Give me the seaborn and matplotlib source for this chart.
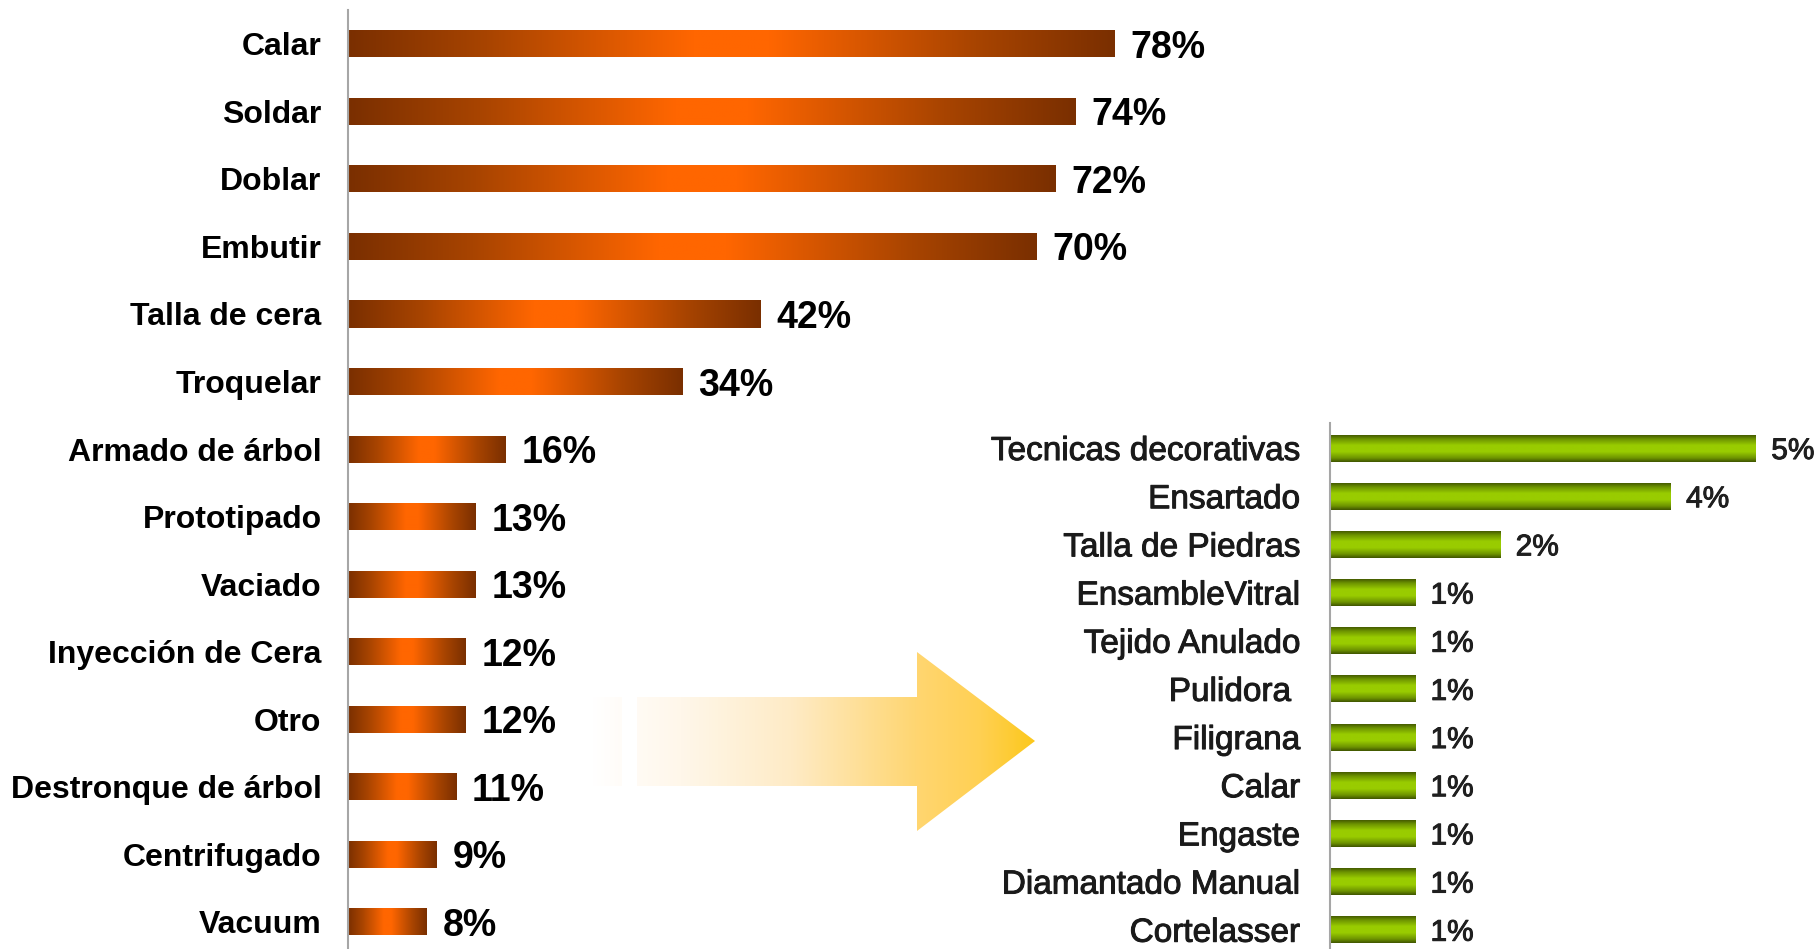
import numpy as np
import pandas as pd
import seaborn as sns
import matplotlib.pyplot as plt
import matplotlib.patheffects as pe
from matplotlib.colors import LinearSegmentedColormap
from matplotlib.patches import Polygon, Rectangle

sns.set_theme(style="white")
plt.rcParams['font.family'] = ['Liberation Sans', 'DejaVu Sans']

# data
left_cats = ["Calar", "Soldar", "Doblar", "Embutir", "Talla de cera", "Troquelar",
             "Armado de árbol", "Prototipado", "Vaciado", "Inyección de Cera", "Otro",
             "Destronque de árbol", "Centrifugado", "Vacuum"]
left_vals = [78, 74, 72, 70, 42, 34, 16, 13, 13, 12, 12, 11, 9, 8]

right_cats = ["Tecnicas decorativas", "Ensartado", "Talla de Piedras", "EnsambleVitral",
              "Tejido Anulado", "Pulidora ", "Filigrana", "Calar", "Engaste",
              "Diamantado Manual", "Cortelasser"]
right_vals = [5, 4, 2, 1, 1, 1, 1, 1, 1, 1, 1]

df_left = pd.DataFrame({"cat": left_cats, "val": left_vals})
df_right = pd.DataFrame({"cat": right_cats, "val": right_vals})

W, H = 1817, 949
fig = plt.figure(figsize=(W / 100, H / 100), dpi=100)

orange_cm = LinearSegmentedColormap.from_list(
    "orng", [(0, "#7a2f00"), (0.18, "#a84400"), (0.45, "#ff6600"),
             (0.55, "#ff6600"), (0.82, "#a84400"), (1, "#7a2f00")])
green_cm = LinearSegmentedColormap.from_list(
    "grn", [(0, "#445a00"), (0.15, "#6e9400"), (0.38, "#99cc00"),
            (0.62, "#99cc00"), (0.85, "#6e9400"), (1, "#3f5400")])

thick = [pe.withStroke(linewidth=0.7, foreground="#1a1a1a")]


def gradient_fill(ax, patch, cmap, vertical=False):
    x, y = patch.get_x(), patch.get_y()
    w, h = patch.get_width(), patch.get_height()
    g = np.linspace(0, 1, 256)
    img = g.reshape(-1, 1) if vertical else g.reshape(1, -1)
    im = ax.imshow(img, cmap=cmap, extent=[x, x + w, y, y + h], origin="lower",
                   aspect="auto", interpolation="bilinear",
                   zorder=patch.get_zorder() + 0.1)
    im.set_clip_path(patch)
    patch.set_facecolor("none")
    patch.set_edgecolor("none")


def style_axis(ax, pad):
    for s in ["top", "right", "bottom"]:
        ax.spines[s].set_visible(False)
    ax.spines["left"].set_color("#a6a6a6")
    ax.spines["left"].set_linewidth(1.5)
    ax.set_xticks([])
    ax.set_xlabel("")
    ax.set_ylabel("")
    ax.tick_params(axis="y", length=0, pad=pad)
    ax.patch.set_alpha(0)


# left chart
ax1 = fig.add_axes([348 / W, 0, 786.4 / W, 939 / H])
sns.barplot(data=df_left, x="val", y="cat", orient="h", color="#ff6600",
            width=0.4, ax=ax1, errorbar=None)
style_axis(ax1, 19)
for lab in ax1.get_yticklabels():
    lab.set_fontsize(23)
    lab.set_fontweight("bold")
    lab.set_color("#000000")
txt = ax1.bar_label(ax1.containers[0], labels=[f"{v}%" for v in left_vals],
                    padding=11.5, fontsize=27, fontweight="bold", color="#000000",
                    clip_on=False)
for t in txt:
    t.set_va("center_baseline")
for p in ax1.patches:
    gradient_fill(ax1, p, orange_cm)
ax1.set_xlim(0, 80)
ax1.set_ylim(13.4, -0.5)

# right chart
ax2 = fig.add_axes([1330 / W, 0, 468.6 / W, 526 / H])
sns.barplot(data=df_right, x="val", y="cat", orient="h", color="#99cc00",
            width=0.56, ax=ax2, errorbar=None)
style_axis(ax2, 21.5)
for lab in ax2.get_yticklabels():
    lab.set_fontsize(24)
    lab.set_color("#1a1a1a")
    lab.set_path_effects(thick)
txt = ax2.bar_label(ax2.containers[0], labels=[f"{v}%" for v in right_vals],
                    padding=11, fontsize=21.5, color="#1f1f1f", clip_on=False)
for t in txt:
    t.set_va("center_baseline")
    t.set_path_effects(thick)
for p in ax2.patches:
    gradient_fill(ax2, p, green_cm, vertical=True)
ax2.set_xlim(0, 5.5)
ax2.set_ylim(10.4, -0.52)

# decorative arrow between the charts
axo = fig.add_axes([0, 0, 1, 1], zorder=-1)
axo.set_xlim(0, W)
axo.set_ylim(H, 0)
axo.axis("off")
arrow_cm = LinearSegmentedColormap.from_list(
    "arr", [(0, "#ffffff"), (0.2, "#fff7ea"), (0.45, "#feebc6"),
            (0.73, "#ffd672"), (0.88, "#ffd052"), (1, "#fcc81c")])
x0, x1 = 592, 1035
shape = Polygon([(637, 697), (917, 697), (917, 652), (1035, 741), (917, 831),
                 (917, 786), (637, 786)], closed=True, facecolor="none",
                edgecolor="none")
stub = Rectangle((592, 697), 30, 89, facecolor="none", edgecolor="none")
for shp in (shape, stub):
    axo.add_patch(shp)
    im = axo.imshow(np.linspace(0, 1, 256).reshape(1, -1), cmap=arrow_cm,
                    extent=[x0, x1, 652, 831], origin="lower", aspect="auto",
                    interpolation="bilinear")
    im.set_clip_path(shp)
axo.set_xlim(0, W)
axo.set_ylim(H, 0)

fig.savefig("out.png", dpi=100, facecolor="white")
